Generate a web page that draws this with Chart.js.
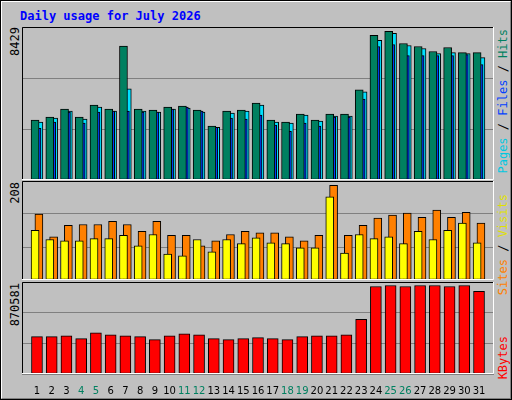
<!DOCTYPE html>
<html><head><meta charset="utf-8">
<script src="https://cdn.jsdelivr.net/npm/chart.js@4"></script>
<style>
body{margin:0;background:#fff}
#wrap{position:absolute;left:0;top:0;width:508px;height:396px;background:#c0c0c0;border-top:2px solid #fff;border-left:2px solid #fff;border-right:2px solid #808080;border-bottom:2px solid #808080;outline:1px solid #000;outline-offset:-1px}
.title{position:absolute;left:18px;top:7px;font:bold 12px "DejaVu Sans Mono",monospace;color:#0000ff}
.box{position:absolute;left:20px;width:472px}
.vt{position:absolute;writing-mode:vertical-rl;transform:rotate(180deg);font:12px "DejaVu Sans Mono",monospace;white-space:nowrap}
</style></head><body>
<div id="wrap">
<div class="title">Daily usage for July 2026</div>
<div class="box" style="top:25px;height:153px"><canvas id="c1"></canvas></div>
<div class="box" style="top:179px;height:99px"><canvas id="c2"></canvas></div>
<div class="box" style="top:280px;height:118px"><canvas id="c3"></canvas></div>
<div class="vt" id="l1" style="left:6px;top:25px;color:#000"></div>
<div class="vt" id="l2" style="left:6px;top:180px;color:#000"></div>
<div class="vt" id="l3" style="left:6px;top:281px;color:#000"></div>
<div class="vt" style="left:494px;top:27px"><span style="color:#00c8e0">Pages</span> / <span style="color:#0040ff">Files</span> / <span style="color:#008060">Hits</span></div>
<div class="vt" style="left:494px;top:192px"><span style="color:#ff8000">Sites</span> / <span style="color:#e0e000">Visits</span></div>
<div class="vt" style="left:494px;top:334px;color:#ff0000">KBytes</div>
</div>
<script>
const days=[1,2,3,4,5,6,7,8,9,10,11,12,13,14,15,16,17,18,19,20,21,22,23,24,25,26,27,28,29,30,31];
const weekend=[4,5,11,12,18,19,25,26];
const hits=[3394,3566,4024,3566,4253,4024,7590,4024,3967,4138,4195,3967,3051,3909,3967,4367,3394,3280,3738,3394,3738,3738,5111,8200,8429,7742,7571,7285,7514,7228,7228];
const files=[3280,3509,3909,3452,4138,3909,5168,3909,3852,4024,4081,3852,2994,3795,3909,4253,3280,3223,3681,3337,3623,3623,4996,7914,8315,7628,7456,7170,7228,7170,6941];
const pages=[2937,3280,3852,3223,3852,3909,3909,3852,3852,4024,4138,3909,2994,3509,3452,3681,3108,2765,3223,3051,3566,3566,4596,7571,7685,7056,7056,7056,7056,7113,6541];
const visits=[145,95,120,122,122,129,122,107,129,98,98,75,86,100,107,104,104,95,86,98,208,98,120,136,143,147,138,154,138,149,125];
const sites=[109,89,86,86,91,91,98,75,100,57,53,89,62,89,80,93,82,80,71,71,183,59,100,91,95,80,107,89,109,125,82];
const kbytes=[367218,367218,376718,348227,405210,386215,376718,367218,338730,376718,395713,386215,348227,338730,348227,357724,348227,338730,367218,376718,376718,386215,538169,861070,870581,861070,870581,870581,861070,870581,813585];

const maxHits=Math.max(...hits),maxVisits=Math.max(...visits),maxKB=Math.max(...kbytes);
document.getElementById('l1').textContent=maxHits;
document.getElementById('l2').textContent=maxVisits;
document.getElementById('l3').textContent=maxKB;

const frame={id:'frame',afterDraw(c){const a=c.chartArea,x=c.ctx;x.save();x.strokeStyle='#000';x.lineWidth=1;
 x.beginPath();x.moveTo(a.left+0.5,a.bottom);x.lineTo(a.left+0.5,a.top+0.5);x.lineTo(a.right,a.top+0.5);x.stroke();
 x.strokeStyle='#fff';x.beginPath();x.moveTo(a.right-0.5,a.top);x.lineTo(a.right-0.5,a.bottom-0.5);x.lineTo(a.left,a.bottom-0.5);x.stroke();x.restore();}};

function ds(vals,off,color,th){return{data:vals.map((v,i)=>({x:days[i]+off,y:v})),grouped:false,backgroundColor:color,borderColor:'#000',borderWidth:1,barThickness:th,borderSkipped:false}}
function opts(ymax,showX){return{responsive:true,maintainAspectRatio:false,animation:false,events:[],
 layout:{padding:0},plugins:{legend:{display:false},tooltip:{enabled:false}},
 scales:{x:{type:'linear',min:0.5,max:31.5,display:showX,grid:{display:false},border:{display:false},
   afterBuildTicks(ax){ax.ticks=days.map(d=>({value:d}));},
   ticks:{autoSkip:false,maxRotation:0,padding:3,font:{family:'DejaVu Sans',size:10},
     color:c=>weekend.includes(days[c.index])?'#008060':'#000',callback:(v,i)=>days[i]}},
  y:{min:0,max:ymax,display:true,ticks:{display:false,stepSize:ymax/3},grid:{color:'#808080',drawTicks:false,lineWidth:1},border:{display:false}}}}}

new Chart(document.getElementById('c1'),{type:'bar',data:{datasets:[ds(hits,-0.13,'#008060',8),ds(pages,0,'#0040ff',8),ds(files,0.13,'#00e0ff',8)]},options:opts(maxHits*455/442,false),plugins:[frame]});
new Chart(document.getElementById('c2'),{type:'bar',data:{datasets:[ds(sites,-0.13,'#ffff00',8),ds(visits,0.13,'#ff8000',8)]},options:opts(maxVisits*290/277,false),plugins:[frame]});
new Chart(document.getElementById('c3'),{type:'bar',data:{datasets:[ds(kbytes,0,'#ff0000',11)]},options:opts(maxKB*286/275,true),plugins:[frame]});
</script></body></html>
